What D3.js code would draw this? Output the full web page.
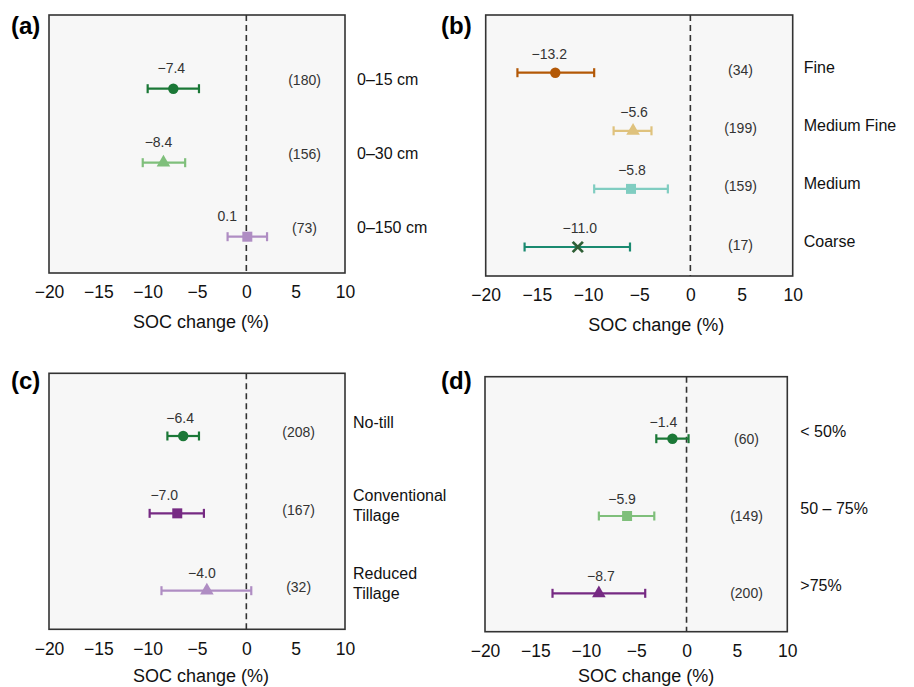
<!DOCTYPE html>
<html>
<head>
    <title>SOC change forest plots</title>
    <script src="https://cdn.jsdelivr.net/npm/d3@7"></script>
    <style>
        body {
            margin: 0;
            background: #fff;
            font-family: "Liberation Sans", Arial, sans-serif;
        }
        .tick text {
            font-size: 17.5px;
            fill: #111;
        }
        .axis-title {
            font-size: 18px;
            fill: #111;
        }
        .panel-label {
            font-size: 24px;
            font-weight: bold;
        }
        .value-label, .n-label {
            font-size: 14px;
            fill: #333;
        }
        .row-label {
            font-size: 16px;
            fill: #111;
        }
    </style>
</head>
<body>
    <svg width="914" height="687" id="mainsvg" style="display: block;"></svg>
    <script>
        // (a) soil depth
        const depthCats = ['0–15 cm', '0–30 cm', '0–150 cm'];
        const depthMean = [-7.4, -8.4, 0.1];
        const depthLow = [-10.0, -10.5, -1.9];
        const depthHigh = [-4.8, -6.2, 2.1];
        const depthN = [180, 156, 73];

        // (b) soil texture
        const textureCats = ['Fine', 'Medium Fine', 'Medium', 'Coarse'];
        const textureMean = [-13.2, -5.6, -5.8, -11.0];
        const textureLow = [-16.9, -7.5, -9.4, -16.2];
        const textureHigh = [-9.4, -3.8, -2.2, -5.9];
        const textureN = [34, 199, 159, 17];

        // (c) tillage
        const tillCats = ['No-till', 'Conventional\nTillage', 'Reduced\nTillage'];
        const tillMean = [-6.4, -7.0, -4.0];
        const tillLow = [-8.0, -9.8, -8.6];
        const tillHigh = [-4.8, -4.3, 0.5];
        const tillN = [208, 167, 32];

        // (d) share
        const shareCats = ['< 50%', '50 – 75%', '>75%'];
        const shareMean = [-1.4, -5.9, -8.7];
        const shareLow = [-3.0, -8.7, -13.3];
        const shareHigh = [0.2, -3.2, -4.1];
        const shareN = [60, 149, 200];

        const xTicks = [-20, -15, -10, -5, 0, 5, 10];

        const panels = [
            {
                label: '(a)', cats: depthCats, mean: depthMean, low: depthLow, high: depthHigh, n: depthN,
                shapes: ['circle', 'triangle', 'square'],
                colors: ['#1b7837', '#7fbf7b', '#af8dc3'],
                markColors: ['#1b7837', '#7fbf7b', '#af8dc3'],
                left: 49, top: 15, right: 345, bottom: 273, rowTop: 73.7, rowBottom: 36.3,
                labelShift: [-2, -5, -20], valueDy: -16, nX: 5.9, nDy: -3.5,
                rowDx: 12, rowDy: -4, titleDx: 4, tagX: 11, tagY: 34
            },
            {
                label: '(b)', cats: textureCats, mean: textureMean, low: textureLow, high: textureHigh, n: textureN,
                shapes: ['circle', 'triangle', 'square', 'x'],
                colors: ['#b35806', '#dfc27d', '#80cdc1', '#1a8a70'],
                markColors: ['#b35806', '#dfc27d', '#80cdc1', '#2f5f36'],
                left: 485.7, top: 15, right: 792.7, bottom: 276, rowTop: 57.7, rowBottom: 29,
                labelShift: [-6, 1, 1, 2], valueDy: -14, nX: 4.9, nDy: 2.5,
                rowDx: 11, rowDy: 0, titleDx: 17, tagX: 441, tagY: 34
            },
            {
                label: '(c)', cats: tillCats, mean: tillMean, low: tillLow, high: tillHigh, n: tillN,
                shapes: ['circle', 'square', 'triangle'],
                colors: ['#1b7837', '#762a83', '#af8dc3'],
                markColors: ['#1b7837', '#762a83', '#af8dc3'],
                left: 49, top: 373.3, right: 345, bottom: 629.3, rowTop: 62.7, rowBottom: 38.6,
                labelShift: [-3, -13, -5], valueDy: -13, nX: 5.3, nDy: 1.5,
                rowDx: 8, rowDy: -7.5, titleDx: 4, tagX: 11, tagY: 389
            },
            {
                label: '(d)', cats: shareCats, mean: shareMean, low: shareLow, high: shareHigh, n: shareN,
                shapes: ['circle', 'square', 'triangle'],
                colors: ['#1b7837', '#7fbf7b', '#762a83'],
                markColors: ['#1b7837', '#7fbf7b', '#762a83'],
                left: 485, top: 376.7, right: 787.3, bottom: 631.7, rowTop: 62, rowBottom: 38.4,
                labelShift: [-9, -5, 2], valueDy: -12, nX: 5.95, nDy: 5,
                rowDx: 13, rowDy: -2, titleDx: 10, tagX: 441, tagY: 389
            }
        ];

        const symbolTypes = {
            circle: { type: d3.symbolCircle, size: 85 },
            triangle: { type: d3.symbolTriangle, size: 80 },
            square: { type: d3.symbolSquare, size: 100 },
            x: { type: d3.symbolX, size: 70 }
        };

        const svg = d3.select('#mainsvg');
        const fmt = d3.format('.1f');

        panels.forEach(p => {
            const w = p.right - p.left;
            const h = p.bottom - p.top;
            const g = svg.append('g')
                .attr('transform', `translate(${p.left}, ${p.top})`);

            const xScale = d3.scaleLinear().domain([-20, 10]).range([0, w]);
            const yScale = d3.scalePoint()
                .domain(d3.range(p.cats.length))
                .range([p.rowTop, h - p.rowBottom]);

            // frame
            g.append('rect')
                .attr('width', w)
                .attr('height', h)
                .attr('fill', '#f7f7f7')
                .attr('stroke', '#333')
                .attr('stroke-width', 1.6);

            // zero line
            g.append('line')
                .attr('x1', xScale(0)).attr('x2', xScale(0))
                .attr('y1', 0).attr('y2', h)
                .attr('stroke', '#333')
                .attr('stroke-width', 1.6)
                .attr('stroke-dasharray', '6,4');

            // x axis
            const axis = g.append('g')
                .attr('transform', `translate(0, ${h})`)
                .call(d3.axisBottom(xScale).tickValues(xTicks).tickSize(0).tickPadding(13));
            axis.select('.domain').remove();
            axis.selectAll('text').attr('font-family', null).attr('font-size', null);

            // keep the title inside the page
            g.append('text')
                .attr('class', 'axis-title')
                .attr('x', w / 2 + p.titleDx)
                .attr('y', Math.min(h + 55, 682 - p.top))
                .attr('text-anchor', 'middle')
                .text('SOC change (%)');

            const rows = d3.range(p.cats.length);

            // error bars
            const bars = g.selectAll('.bar').data(rows).enter().append('g')
                .attr('class', 'bar')
                .attr('stroke', i => p.colors[i])
                .attr('stroke-width', 2.2);
            bars.append('line')
                .attr('x1', i => xScale(p.low[i]))
                .attr('x2', i => xScale(p.high[i]))
                .attr('y1', i => yScale(i))
                .attr('y2', i => yScale(i));
            bars.append('line')
                .attr('x1', i => xScale(p.low[i]))
                .attr('x2', i => xScale(p.low[i]))
                .attr('y1', i => yScale(i) - 4.5)
                .attr('y2', i => yScale(i) + 4.5);
            bars.append('line')
                .attr('x1', i => xScale(p.high[i]))
                .attr('x2', i => xScale(p.high[i]))
                .attr('y1', i => yScale(i) - 4.5)
                .attr('y2', i => yScale(i) + 4.5);

            // markers
            g.selectAll('.mark').data(rows).enter().append('path')
                .attr('class', 'mark')
                .attr('transform', i => `translate(${xScale(p.mean[i])}, ${yScale(i)})`)
                .attr('d', i => d3.symbol(symbolTypes[p.shapes[i]].type, symbolTypes[p.shapes[i]].size)())
                .attr('fill', i => p.shapes[i] === 'x' ? 'none' : p.markColors[i])
                .attr('stroke', i => p.shapes[i] === 'x' ? p.markColors[i] : 'none')
                .attr('stroke-width', 2.8);

            // value labels
            g.selectAll('.value-label').data(rows).enter().append('text')
                .attr('class', 'value-label')
                .attr('x', i => xScale(p.mean[i]) + p.labelShift[i])
                .attr('y', i => yScale(i) + p.valueDy)
                .attr('text-anchor', 'middle')
                .text(i => fmt(p.mean[i]));

            // sample sizes
            g.selectAll('.n-label').data(rows).enter().append('text')
                .attr('class', 'n-label')
                .attr('x', xScale(p.nX))
                .attr('y', i => yScale(i) + p.nDy)
                .attr('text-anchor', 'middle')
                .text(i => `(${p.n[i]})`);

            // row labels, right of the frame
            g.selectAll('.row-label').data(rows).enter().append('text')
                .attr('class', 'row-label')
                .each(function (i) {
                    const lines = p.cats[i].split('\n');
                    const y0 = lines.length > 1 ? yScale(i) - 12 : yScale(i) + p.rowDy;
                    lines.forEach((ln, k) => {
                        d3.select(this).append('tspan')
                            .attr('x', w + p.rowDx)
                            .attr('y', y0 + k * 20)
                            .text(ln);
                    });
                });

            svg.append('text')
                .attr('class', 'panel-label')
                .attr('x', p.tagX)
                .attr('y', p.tagY)
                .text(p.label);
        });
    </script>
</body>
</html>
